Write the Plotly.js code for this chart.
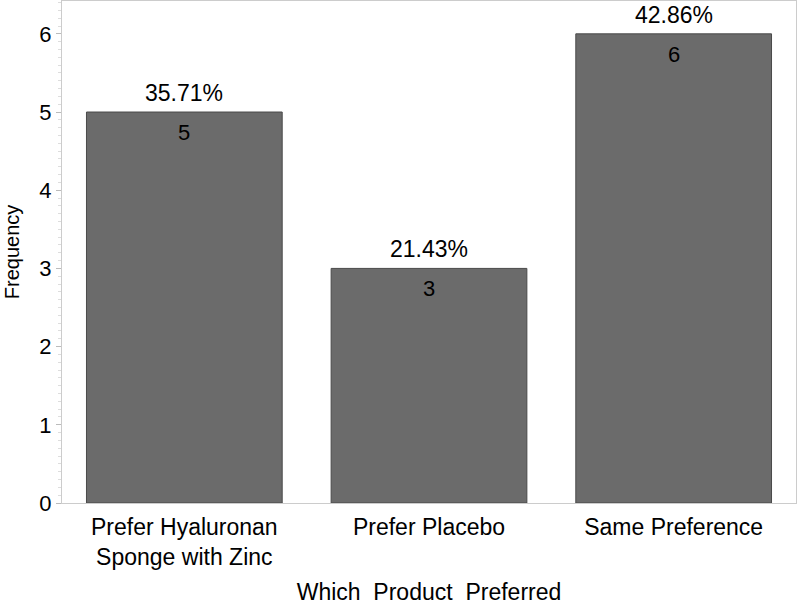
<!DOCTYPE html>
<html>
<head>
<meta charset="utf-8">
<script src="https://cdn.plot.ly/plotly-3.0.1.min.js"></script>
<style>body{margin:0;background:#fff}#chart{width:800px;height:605px}</style>
</head>
<body>
<div id="chart"></div>
<script>
// survey: which product was preferred
const categories = ['Prefer Hyaluronan<br>Sponge with Zinc', 'Prefer Placebo', 'Same Preference'];
const counts = [5, 3, 6];
const percents = ['35.71%', '21.43%', '42.86%'];

const font = 'Liberation Sans, Arial, sans-serif';

let bars = {
    x: categories,
    y: counts,
    type: 'bar',
    width: 0.8,
    marker: {color: '#6b6b6b', line: {color: '#4a4a4a', width: 1}},
    hoverinfo: 'none'
};

// percent above each bar, count just inside its top
let notes = [];
categories.forEach((c, i) => {
    notes.push({x: c, y: counts[i], text: percents[i], showarrow: false,
        yanchor: 'bottom', yshift: 4, font: {family: font, size: 23, color: '#000'}});
    notes.push({x: c, y: counts[i], text: String(counts[i]), showarrow: false,
        yanchor: 'top', yshift: -6, font: {family: font, size: 22, color: '#000'}});
});

Plotly.newPlot('chart', [bars], {
    width: 800,
    height: 605,
    margin: {l: 62, r: 4, t: 1, b: 102},
    showlegend: false,
    plot_bgcolor: '#fff',
    paper_bgcolor: '#fff',
    font: {family: font, color: '#000'},
    annotations: notes,
    xaxis: {
        showline: true, mirror: true, linecolor: '#cccccc', linewidth: 1,
        ticks: '',
        ticklabelstandoff: 3,
        tickfont: {family: font, size: 23, color: '#000'},
        title: {text: 'Which  Product  Preferred', font: {family: font, size: 23}, standoff: 21}
    },
    yaxis: {
        range: [0, 6.42],
        dtick: 1,
        showgrid: false,
        zeroline: false,
        showline: true, mirror: true, linecolor: '#cccccc', linewidth: 1,
        ticks: 'outside', ticklen: 5, tickcolor: '#bbbbbb',
        minor: {dtick: 0.1, ticks: 'outside', ticklen: 3, tickcolor: '#dddddd', showgrid: false},
        tickfont: {family: font, size: 22, color: '#000'},
        title: {text: 'Frequency', font: {family: font, size: 20}, standoff: 14}
    },
    bargap: 0.2
}, {staticPlot: true});
</script>
</body>
</html>
